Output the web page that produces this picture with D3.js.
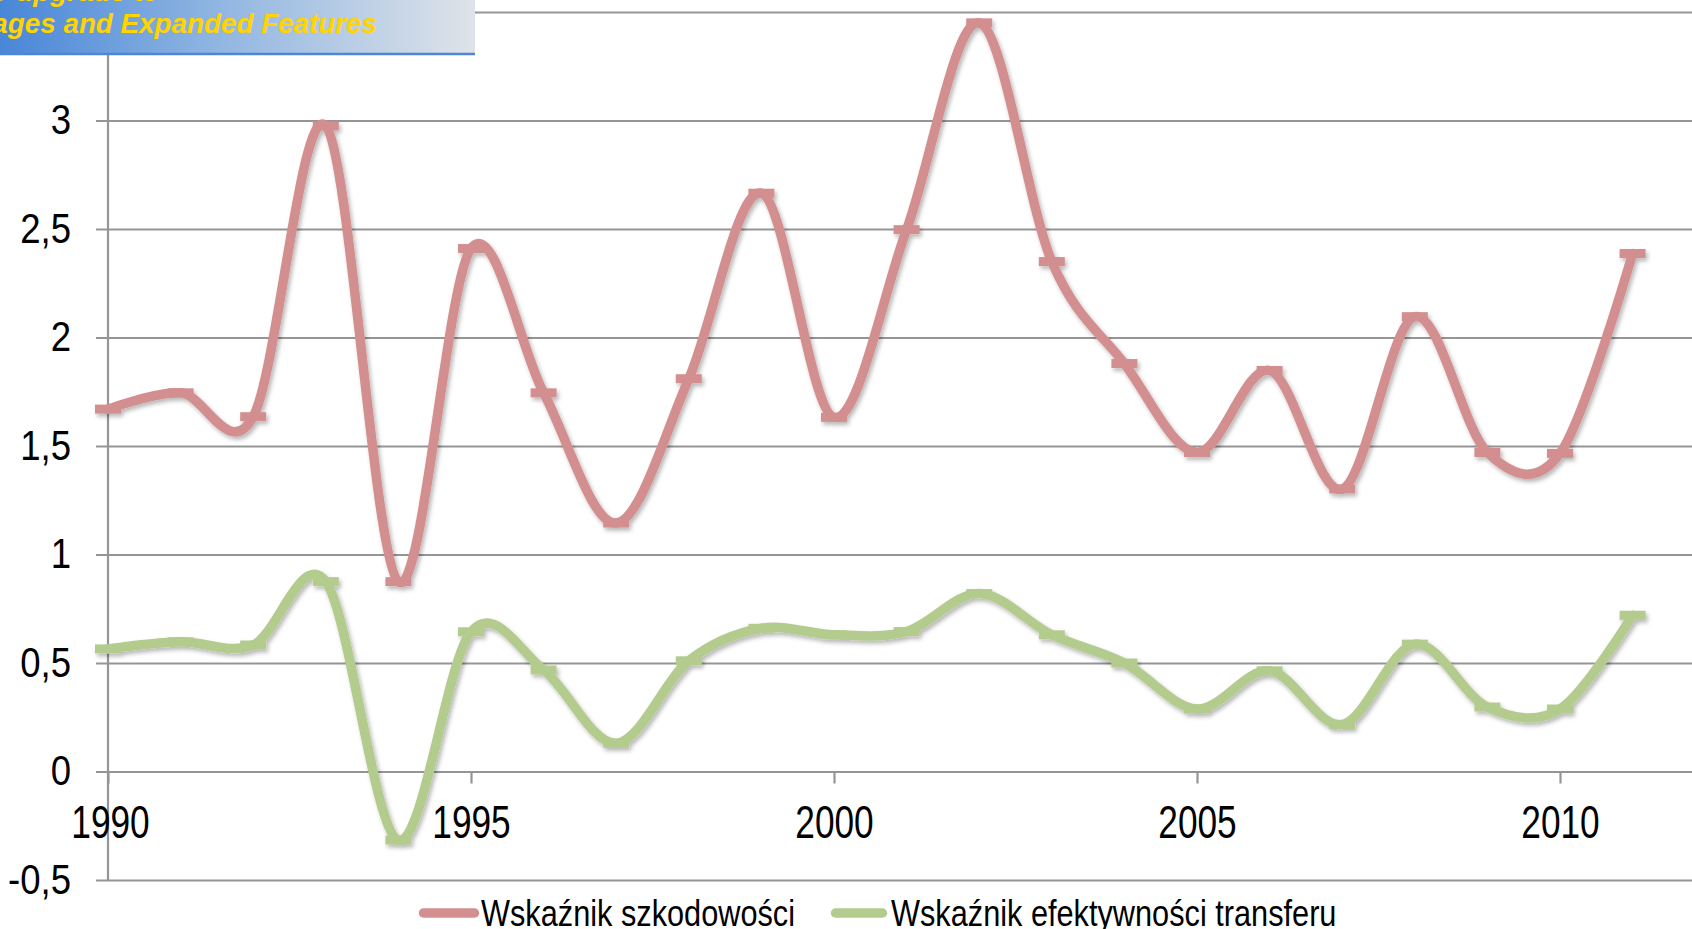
<!DOCTYPE html>
<meta charset="utf-8">
<style>
  body { margin: 0; background: #fff; }
  svg { display: block; }
  text { font-family: "Liberation Sans", Arial, sans-serif; }
</style>
<script src="https://d3js.org/d3.v7.min.js"></script>
<div id="chart"></div>
<script>

// data
var years = d3.range(1990, 2012);
var szkodowosc = [1.67, 1.745, 1.635, 2.975, 0.875, 2.41, 1.745, 1.145, 1.81, 2.665, 1.632, 2.497, 3.45, 2.35, 1.88, 1.47, 1.848, 1.302, 2.096, 1.47, 1.466, 2.387];
var efektywnosc = [0.565, 0.598, 0.583, 0.875, -0.316, 0.644, 0.468, 0.13, 0.51, 0.66, 0.63, 0.645, 0.82, 0.63, 0.50, 0.288, 0.464, 0.217, 0.587, 0.297, 0.288, 0.72];
var seriesNames = ["Wskaźnik szkodowości", "Wskaźnik efektywności transferu"];
var seriesColors = ["#d38f8f", "#b4cb8e"];
var yTicks = [-0.5, 0, 0.5, 1, 1.5, 2, 2.5, 3, 3.5];
var xTicks = [1990, 1995, 2000, 2005, 2010];

var W = 1692, H = 929;

var svg = d3.select("#chart").append("svg")
    .attr("width", W)
    .attr("height", H);

svg.append("rect").attr("width", W).attr("height", H).attr("fill", "#fff");

var defs = svg.append("defs");

// soft shadow like the office chart
var shadow = defs.append("filter").attr("id", "shadow")
    .attr("x", "-5%").attr("y", "-5%").attr("width", "110%").attr("height", "110%");
shadow.append("feDropShadow")
    .attr("dx", 2).attr("dy", 3).attr("stdDeviation", 2)
    .attr("flood-color", "#000").attr("flood-opacity", 0.28);

var x = d3.scaleLinear().domain([1990, 2011]).range([108, 1632.6]);
var y = d3.scaleLinear().domain([-0.5, 3.5]).range([880, 12]);

var pl = d3.formatLocale({decimal: ",", thousands: " ", grouping: [3], currency: ["", ""], minus: "-"});
var fmt = pl.format(".1~f");

// y axis: gridlines + labels
var yAxis = svg.append("g")
    .attr("transform", "translate(108,0)")
    .call(d3.axisLeft(y).tickValues(yTicks).tickSizeInner(-(W - 108)).tickSizeOuter(0).tickFormat(fmt));
yAxis.select(".domain").remove();
yAxis.selectAll(".tick line")
    .attr("x1", -12)
    .attr("stroke", "#959595")
    .attr("stroke-width", 2.2);
yAxis.selectAll(".tick text")
    .attr("fill", "#000")
    .attr("font-size", 42)
    .attr("text-anchor", "end")
    .attr("x", -37 / 0.87)
    .attr("dy", "0.32em")
    .attr("transform", "scale(0.87,1)");

// vertical axis line
svg.append("line")
    .attr("x1", 108).attr("x2", 108)
    .attr("y1", y(3.5)).attr("y2", y(-0.5))
    .attr("stroke", "#959595").attr("stroke-width", 2.2);

// x axis at zero
var xAxis = svg.append("g")
    .attr("transform", "translate(0," + y(0) + ")")
    .call(d3.axisBottom(x).tickValues(xTicks).tickSizeInner(12).tickSizeOuter(0).tickFormat(d3.format("d")));
xAxis.select(".domain").remove();
xAxis.selectAll(".tick line").attr("stroke", "#959595").attr("stroke-width", 2.2);
xAxis.selectAll(".tick text")
    .attr("fill", "#000")
    .attr("font-size", 47)
    .attr("y", 0)
    .attr("dy", 0)
    .attr("transform", "translate(0,66.5) scale(0.75,1)")
    .attr("x", 0);
xAxis.selectAll(".tick").filter(function(d) { return d === 1990; })
    .select("text").attr("transform", "translate(2,66.5) scale(0.75,1)");

// series
var allSeries = [szkodowosc, efektywnosc];
var line = d3.line()
    .x(function(d, i) { return x(years[i]); })
    .y(function(d) { return y(d); })
    .curve(d3.curveCardinal.tension(0));

var g = svg.append("g").attr("filter", "url(#shadow)");

allSeries.forEach(function(vals, s) {
  g.append("path")
    .datum(vals)
    .attr("d", line)
    .attr("fill", "none")
    .attr("stroke", seriesColors[s])
    .attr("stroke-width", 9.5)
    .attr("stroke-linejoin", "round")
    .attr("stroke-linecap", "round");

  // dash markers
  g.selectAll(".m" + s)
    .data(vals)
    .enter().append("rect")
    .attr("class", "m" + s)
    .attr("x", function(d, i) { return x(years[i]) - 13; })
    .attr("y", function(d) { return y(d) - 4.5; })
    .attr("width", 26)
    .attr("height", 9)
    .attr("fill", seriesColors[s]);
});

// legend
var legend = svg.append("g");
var legendX = [[423.5, 474.5, 481], [835.5, 882.5, 891]];
seriesNames.forEach(function(name, s) {
  legend.append("line")
    .attr("x1", legendX[s][0]).attr("x2", legendX[s][1])
    .attr("y1", 913).attr("y2", 913)
    .attr("stroke", seriesColors[s])
    .attr("stroke-width", 9.5)
    .attr("stroke-linecap", "round");
  legend.append("text")
    .attr("transform", "translate(" + legendX[s][2] + ",926) scale(0.83,1)")
    .attr("font-size", 37)
    .attr("fill", "#000")
    .text(name);
});

// watermark banner in the top left corner
var grad = defs.append("linearGradient").attr("id", "banner")
    .attr("x1", "0").attr("x2", "1").attr("y1", "0").attr("y2", "0");
grad.append("stop").attr("offset", "0").attr("stop-color", "#4886d8");
grad.append("stop").attr("offset", "0.45").attr("stop-color", "#8fb5e1");
grad.append("stop").attr("offset", "1").attr("stop-color", "#dfe3e9");

svg.append("rect")
    .attr("x", 0).attr("y", 0).attr("width", 475).attr("height", 54)
    .attr("fill", "url(#banner)");
svg.append("line")
    .attr("x1", 0).attr("x2", 475).attr("y1", 54).attr("y2", 54)
    .attr("stroke", "#4f86d2").attr("stroke-width", 2.5);

svg.append("text")
    .attr("x", 160).attr("y", 1)
    .attr("text-anchor", "end")
    .attr("font-size", 27.8).attr("font-weight", "bold").attr("font-style", "italic")
    .attr("fill", "#ffd400")
    .text("Click Here to upgrade to");
svg.append("text")
    .attr("x", 377).attr("y", 33)
    .attr("text-anchor", "end")
    .attr("font-size", 27.8).attr("font-weight", "bold").attr("font-style", "italic")
    .attr("fill", "#ffd400")
    .text("Unlimited Pages and Expanded Features");

</script>
